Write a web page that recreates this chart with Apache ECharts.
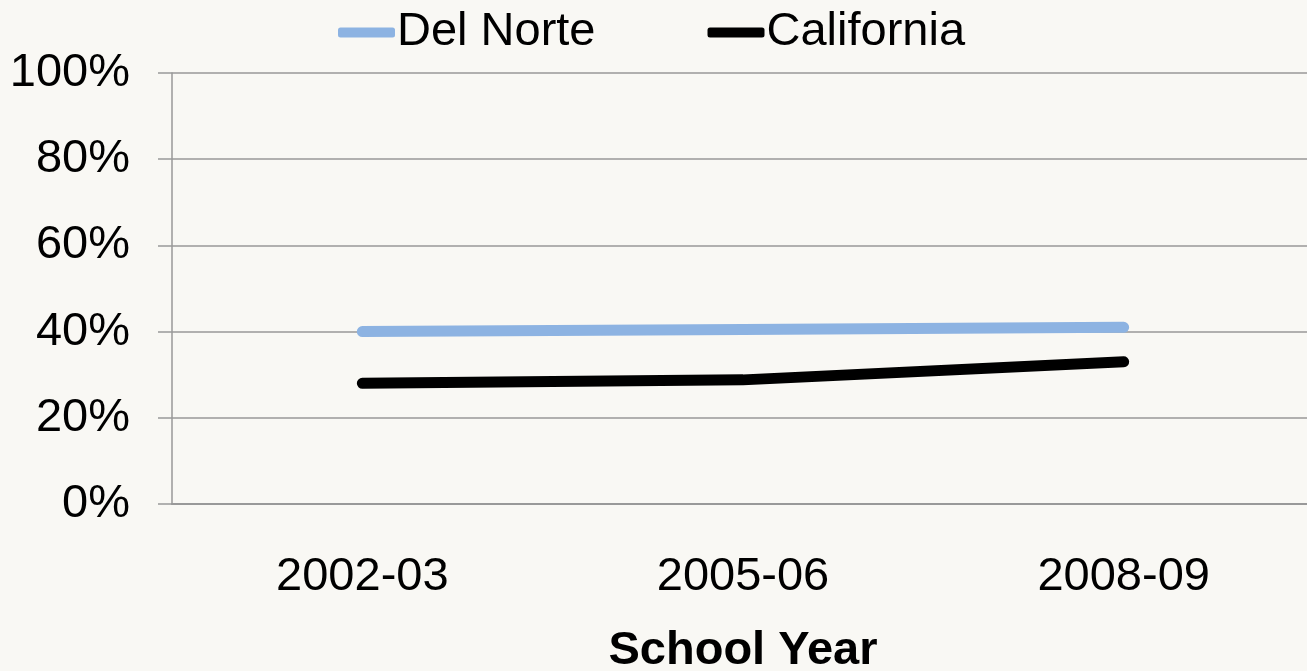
<!DOCTYPE html>
<html>
<head>
<meta charset="utf-8">
<script src="https://cdn.jsdelivr.net/npm/echarts@6/dist/echarts.min.js"></script>
<style>
  html, body { margin: 0; padding: 0; background: #f9f8f4; }
  #chart { width: 1307px; height: 671px; }
</style>
</head>
<body>
<div id="chart"></div>
<script>
var years = ['2002-03', '2005-06', '2008-09'];
var delNorte = [40.0, 40.5, 41.0];
var california = [28.0, 28.8, 33.0];

var myChart = echarts.init(document.getElementById('chart'));
var option = {
  backgroundColor: '#f9f8f4',
  textStyle: { fontFamily: 'Liberation Sans, Arial, sans-serif' },
  legend: {
    top: 4,
    left: 333,
    itemWidth: 57,
    itemHeight: 10,
    itemGap: 112,
    textStyle: { fontSize: 47, color: '#000', padding: [0, 0, 0, -3] },
    data: [
      { name: 'Del Norte', icon: 'roundRect' },
      { name: 'California', icon: 'roundRect' }
    ]
  },
  grid: {
    left: 172,
    top: 73,
    width: 1142,
    height: 431,
    outerBoundsMode: 'none'
  },
  xAxis: {
    type: 'category',
    data: years,
    boundaryGap: true,
    name: 'School Year',
    nameLocation: 'middle',
    nameGap: 124,
    nameTextStyle: { fontSize: 47, fontWeight: 'bold', color: '#000' },
    axisLine: { lineStyle: { color: '#999', width: 2 } },
    axisTick: { length: 14, lineStyle: { color: '#999', width: 1.5 } },
    axisLabel: { fontSize: 47, color: '#000', margin: 50 }
  },
  yAxis: {
    type: 'value',
    min: 0,
    max: 100,
    interval: 20,
    axisLine: { show: true, lineStyle: { color: '#999', width: 1.5 } },
    axisTick: { show: true, length: 14, lineStyle: { color: '#999', width: 1.5 } },
    axisLabel: { fontSize: 47, color: '#000', margin: 42, formatter: '{value}%' },
    splitLine: { lineStyle: { color: '#999', width: 1.5 } }
  },
  series: [
    {
      name: 'Del Norte',
      type: 'line',
      data: delNorte,
      color: '#8db3e2',
      symbol: 'none',
      lineStyle: { width: 11, cap: 'round', join: 'round' }
    },
    {
      name: 'California',
      type: 'line',
      data: california,
      color: '#000000',
      symbol: 'none',
      lineStyle: { width: 11, cap: 'round', join: 'round' }
    }
  ]
};
myChart.setOption(option);
</script>
</body>
</html>
